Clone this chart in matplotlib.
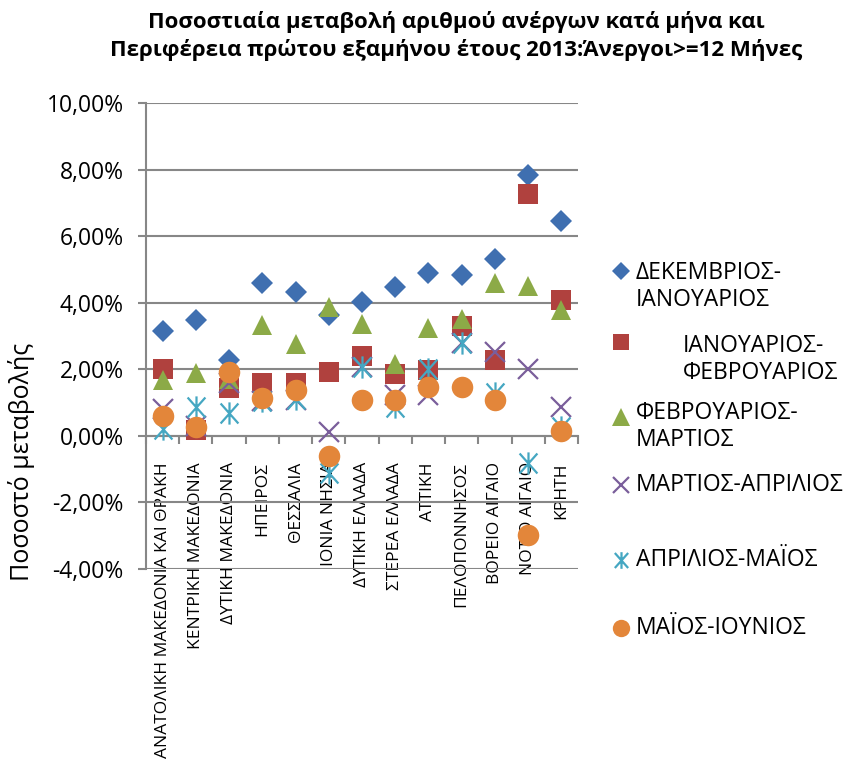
import matplotlib
matplotlib.use('Agg')
import matplotlib.pyplot as plt
from matplotlib.path import Path
from matplotlib.ticker import FuncFormatter, FixedLocator
import numpy as np

plt.rcParams['font.family'] = ['Open Sans', 'DejaVu Sans']

regions = ['ΑΝΑΤΟΛΙΚΗ ΜΑΚΕΔΟΝΙΑ ΚΑΙ ΘΡΑΚΗ', 'ΚΕΝΤΡΙΚΗ ΜΑΚΕΔΟΝΙΑ', 'ΔΥΤΙΚΗ ΜΑΚΕΔΟΝΙΑ',
           'ΗΠΕΙΡΟΣ', 'ΘΕΣΣΑΛΙΑ', 'ΙΟΝΙΑ ΝΗΣΙΑ', 'ΔΥΤΙΚΗ ΕΛΛΑΔΑ', 'ΣΤΕΡΕΑ ΕΛΛΑΔΑ',
           'ΑΤΤΙΚΗ', 'ΠΕΛΟΠΟΝΝΗΣΟΣ', 'ΒΟΡΕΙΟ ΑΙΓΑΙΟ', 'ΝΟΤΙΟ ΑΙΓΑΙΟ', 'ΚΡΗΤΗ']

dec_jan = [3.16, 3.48, 2.28, 4.58, 4.33, 3.62, 4.01, 4.48, 4.88, 4.83, 5.31, 7.85, 6.45]
jan_feb = [2.02, 0.18, 1.43, 1.58, 1.60, 1.93, 2.40, 1.85, 1.98, 3.30, 2.28, 7.28, 4.08]
feb_mar = [1.68, 1.88, 1.70, 3.33, 2.75, 3.88, 3.35, 2.15, 3.25, 3.52, 4.60, 4.50, 3.78]
mar_apr = [0.80, 0.30, 1.60, 1.05, 1.08, 0.13, 2.08, 1.23, 1.23, 2.80, 2.53, 2.00, 0.88]
apr_may = [0.20, 0.88, 0.68, 1.05, 1.10, -1.12, 2.08, 0.88, 2.00, 2.80, 1.28, -0.82, 0.28]
may_jun = [0.60, 0.28, 1.93, 1.13, 1.38, -0.62, 1.08, 1.08, 1.48, 1.48, 1.08, -2.97, 0.16]

series_names = [['ΔΕΚΕΜΒΡΙΟΣ-', 'ΙΑΝΟΥΑΡΙΟΣ'], ['ΙΑΝΟΥΑΡΙΟΣ-', 'ΦΕΒΡΟΥΑΡΙΟΣ'],
                ['ΦΕΒΡΟΥΑΡΙΟΣ-', 'ΜΑΡΤΙΟΣ'], ['ΜΑΡΤΙΟΣ-ΑΠΡΙΛΙΟΣ'], ['ΑΠΡΙΛΙΟΣ-ΜΑΪΟΣ'],
                ['ΜΑΪΟΣ-ΙΟΥΝΙΟΣ']]
y_ticks = [-4, -2, 0, 2, 4, 6, 8, 10]

star = Path([(0, -1), (0, 1), (-0.8, -0.9), (0.8, 0.9), (-0.8, 0.9), (0.8, -0.9)],
            [Path.MOVETO, Path.LINETO, Path.MOVETO, Path.LINETO, Path.MOVETO, Path.LINETO])

series = [dec_jan, jan_feb, feb_mar, mar_apr, apr_may, may_jun]
markers = ['D', 's', '^', 'x', star, 'o']
sizes = [11, 14.5, 15, 14, 16, 15.5]
leg_sizes = [9, 12, 12.5, 11, 12, 12.5]
colors = ['#3F6FB0', '#B0413E', '#8CAA47', '#7A5E9B', '#45A7C2', '#E3863A']
mews = [0, 0, 0, 1.6, 1.6, 0]

fig = plt.figure(figsize=(8.5, 7.8), dpi=100)
ax = fig.add_axes([146 / 850, 1 - 569 / 780, (578 - 146) / 850, (569 - 103) / 780])

grid_c = '#878787'
x = np.arange(len(regions))
for s, m, ms, c, mw in zip(series, markers, sizes, colors, mews):
    ax.plot(x, s, linestyle='none', marker=m, markersize=ms, color=c,
            markeredgewidth=mw, markeredgecolor=c, zorder=3, clip_on=False)

ax.set_xlim(-0.5, len(regions) - 0.5)
ax.set_ylim(-4, 10)
ax.set_yticks(y_ticks)
ax.yaxis.set_major_formatter(FuncFormatter(lambda v, p: f'{v:.2f}'.replace('.', ',') + '%'))
ax.grid(axis='y', color=grid_c, linewidth=1.5, zorder=0)
for sp in ['top', 'right']:
    ax.spines[sp].set_visible(False)
ax.spines['left'].set_color(grid_c)
ax.spines['left'].set_linewidth(1.5)
ax.spines['bottom'].set_position(('data', 0))
ax.spines['bottom'].set_color(grid_c)
ax.spines['bottom'].set_linewidth(1.5)

ax.tick_params(axis='y', length=6, width=1.5, color=grid_c, labelsize=16.5, pad=10)

# category labels
ax.xaxis.set_major_locator(FixedLocator(list(x)))
ax.set_xticklabels(regions, rotation=90, fontsize=12.5, va='top', ha='center')
ax.xaxis.set_minor_locator(FixedLocator(list(np.arange(-0.5, len(regions), 1.0))))
ax.tick_params(axis='x', which='major', length=0, pad=19)
ax.tick_params(axis='x', which='minor', length=6, width=1.5, color=grid_c, direction='out')

fig.text(22 / 850, 1 - 462 / 780, 'Ποσοστό μεταβολής', rotation=90, fontsize=18,
         ha='center', va='center')

fig.text(456 / 850, 1 - 36 / 780,
         'Ποσοστιαία μεταβολή αριθμού ανέργων κατά μήνα και\nΠεριφέρεια πρώτου εξαμήνου έτους 2013:Άνεργοι>=12 Μήνες',
         fontsize=16, fontweight='bold', ha='center', va='center', linespacing=1.35)

# legend drawn manually
lax = fig.add_axes([0, 0, 1, 1], facecolor='none')
lax.set_xlim(0, 850)
lax.set_ylim(780, 0)
lax.axis('off')
leg_marker_y = [271, 342, 417, 485, 560, 628]
leg_line_y = [[273, 300], [346, 373], [413, 440], [485], [560], [628]]
leg_text_x = [636, 683, 636, 636, 636, 636]
for i, (name, m, c, mw) in enumerate(zip(series_names, markers, colors, mews)):
    lax.plot([621], [leg_marker_y[i]], marker=m, markersize=leg_sizes[i], color=c,
             markeredgewidth=mw, markeredgecolor=c, linestyle='none')
    for line, ly in zip(name, leg_line_y[i]):
        lax.text(leg_text_x[i], ly, line, fontsize=16.5, ha='left', va='center')

fig.savefig('out.png', dpi=100)
